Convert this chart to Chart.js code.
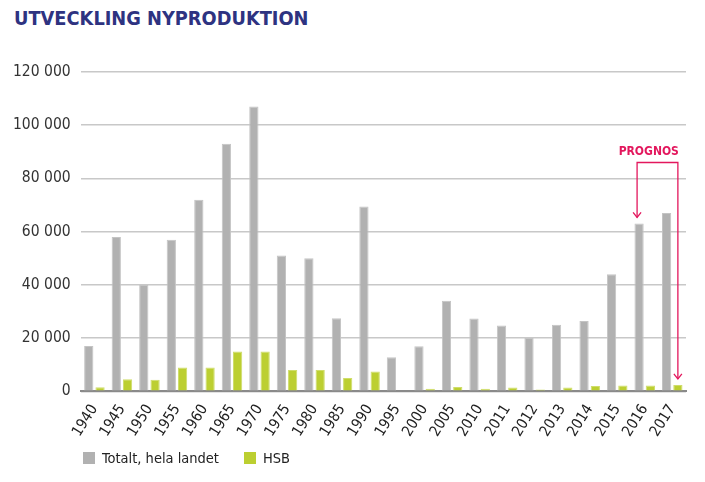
<!DOCTYPE html>
<html>
<head>
<meta charset="utf-8">
<script src="https://cdn.jsdelivr.net/npm/chart.js@4.4.1/dist/chart.umd.min.js"></script>
<style>
  html, body { margin: 0; padding: 0; background: #fff; }
  #wrap { position: relative; width: 705px; height: 482px; }
  #title { position: absolute; left: 14px; top: 7px; font-family: 'DejaVu Sans Condensed', 'Liberation Sans', sans-serif; font-weight: bold; font-size: 19.8px; color: #2e3381; white-space: nowrap; }
  #legend { position: absolute; left: 83px; top: 450px; font-family: 'DejaVu Sans Condensed', 'Liberation Sans', sans-serif; font-size: 14.5px; color: #222; display: flex; }
  .item { display: flex; align-items: center; margin-right: 25px; }
  .box { width: 12px; height: 12px; margin-right: 7px; }
  canvas { position: absolute; left: 0; top: 0; }
</style>
</head>
<body>
<div id="wrap">
  <div id="title">UTVECKLING NYPRODUKTION</div>
  <canvas id="c" width="705" height="482"></canvas>
  <div id="legend"></div>
</div>
<script>
const categories = ['1940','1945','1950','1955','1960','1965','1970','1975','1980','1985','1990','1995','2000','2005','2010','2011','2012','2013','2014','2015','2016','2017'];
const totaltValues = [17000, 58000, 40000, 57000, 72000, 93000, 107000, 51000, 50000, 27500, 69500, 12800, 16900, 34000, 27400, 24700, 20000, 25000, 26400, 44000, 63100, 67000];
const hsbValues = [1500, 4500, 4400, 9000, 9000, 15000, 15000, 8000, 8000, 5000, 7500, 300, 1000, 1600, 1000, 1400, 700, 1400, 2000, 2200, 2200, 2400];
const yTicks = [0, 20000, 40000, 60000, 80000, 100000, 120000];
const seriesLabels = ['Totalt, hela landet', 'HSB'];
const prognosLabel = 'PROGNOS';

const GRAY = '#b1b1b1', GREEN = '#bccf31', PINK = '#e3175d';
const FONT = "'DejaVu Sans Condensed', 'Liberation Sans', sans-serif";

const fmt = v => String(v).replace(/\B(?=(\d{3})+(?!\d))/g, ' ');

const prognosPlugin = {
  id: 'prognos',
  afterDatasetsDraw(chart) {
    const ctx = chart.ctx;
    const y = chart.scales.y;
    const g = chart.getDatasetMeta(0).data[20];
    const h = chart.getDatasetMeta(1).data[21];
    const xL = g.x - 2, xR = h.x;
    const yTop = y.getPixelForValue(86000);
    ctx.save();
    ctx.strokeStyle = PINK; ctx.lineWidth = 1.3;
    ctx.beginPath();
    ctx.moveTo(xL, g.y - 6); ctx.lineTo(xL, yTop); ctx.lineTo(xR, yTop); ctx.lineTo(xR, h.y - 6);
    ctx.stroke();
    const arrow = (x, yy) => { ctx.beginPath(); ctx.moveTo(x - 4, yy - 5); ctx.lineTo(x, yy); ctx.lineTo(x + 4, yy - 5); ctx.stroke(); };
    arrow(xL, g.y - 6); arrow(xR, h.y - 6);
    ctx.fillStyle = PINK;
    ctx.font = "bold 12px " + FONT;
    ctx.textAlign = 'right'; ctx.textBaseline = 'middle';
    ctx.fillText(prognosLabel, xR + 1, y.getPixelForValue(90000));
    ctx.restore();
  }
};

const chart = new Chart(document.getElementById('c'), {
  type: 'bar',
  data: {
    labels: categories,
    datasets: [
      { label: seriesLabels[0], data: totaltValues, backgroundColor: GRAY, borderColor: '#c4c4c4', borderWidth: 1, barPercentage: 0.82, categoryPercentage: 0.82 },
      { label: seriesLabels[1], data: hsbValues, backgroundColor: GREEN, borderColor: '#cfdd6a', borderWidth: 1, barPercentage: 0.82, categoryPercentage: 0.82 }
    ]
  },
  options: {
    responsive: false,
    animation: false,
    devicePixelRatio: 1,
    layout: { padding: { left: 3, right: 19, top: 72, bottom: 40 } },
    plugins: { legend: { display: false }, tooltip: { enabled: false }, title: { display: false } },
    scales: {
      x: {
        grid: { display: false },
        border: { display: true, color: '#8a8a8a', width: 2 },
        ticks: { autoSkip: false, minRotation: 58, maxRotation: 58, color: '#222', padding: 2, font: { family: FONT, size: 15 } }
      },
      y: {
        min: 0, max: 120000,
        afterBuildTicks(axis) { axis.ticks = yTicks.map(v => ({ value: v })); },
        grid: { color: '#c8c8c8', lineWidth: 1.5, drawTicks: false },
        border: { display: false },
        ticks: { padding: 10, color: '#333', callback: v => fmt(v), font: { family: FONT, size: 15.5 } }
      }
    }
  },
  plugins: [prognosPlugin]
});

const leg = document.getElementById('legend');
chart.data.datasets.forEach(ds => {
  const it = document.createElement('div'); it.className = 'item';
  const b = document.createElement('div'); b.className = 'box'; b.style.background = ds.backgroundColor;
  const t = document.createElement('span'); t.textContent = ds.label;
  it.appendChild(b); it.appendChild(t); leg.appendChild(it);
});
</script>
</body>
</html>
